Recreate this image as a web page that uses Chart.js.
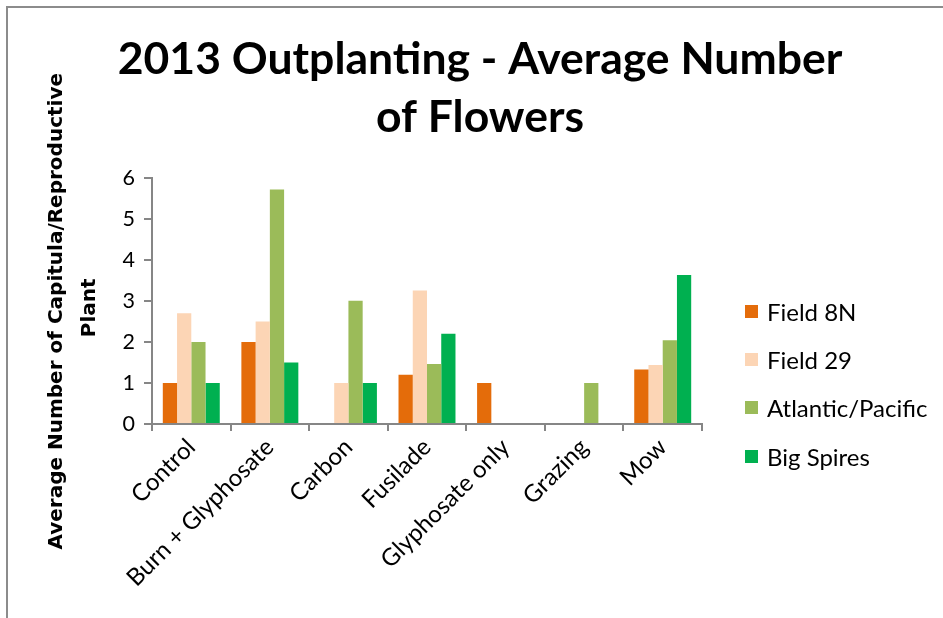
<!DOCTYPE html>
<html>
<head>
<meta charset="utf-8">
<script src="https://cdn.jsdelivr.net/npm/chart.js@4.4.1/dist/chart.umd.min.js"></script>
<style>
  html, body { margin: 0; padding: 0; background: #fff; }
  #wrap { position: relative; width: 943px; height: 618px; overflow: hidden; }
  #frame {
    position: absolute; left: 6px; top: 6px; right: -4px; bottom: -4px;
    border-top: 2px solid #8c8c8c; border-left: 2px solid #8c8c8c;
    pointer-events: none;
  }
  #legend {
    position: absolute; left: 745px; top: 287px; margin: 0; padding: 0;
    list-style: none; font-family: Lato, sans-serif; font-size: 24px; color: #000;
  }
  #legend li { height: 48.3px; display: flex; align-items: center; }
  #legend span.box { display: inline-block; width: 13px; height: 13px; margin-right: 9px; }
</style>
</head>
<body>
<div id="wrap">
  <canvas id="chart" width="943" height="618"></canvas>
  <ul id="legend"></ul>
  <div id="frame"></div>
</div>
<script>
const categories = ["Control", "Burn + Glyphosate", "Carbon", "Fusilade", "Glyphosate only", "Grazing", "Mow"];
const seriesNames = ["Field 8N", "Field 29", "Atlantic/Pacific", "Big Spires"];
const seriesColors = ["#E46C0A", "#FCD5B5", "#9BBB59", "#00B050"];

const field8N = [1, 2, 0, 1.2, 1, 0, 1.33];
const field29 = [2.7, 2.5, 1, 3.25, 0, 0, 1.44];
const atlanticPacific = [2, 5.71, 3, 1.46, 0, 1, 2.04];
const bigSpires = [1, 1.5, 1, 2.2, 0, 0, 3.63];

const yTicks = [0, 1, 2, 3, 4, 5, 6];

const titleLines = ["2013 Outplanting - Average Number", "of Flowers"];
// trailing spaces nudge the rotated title a bit lower along the axis
const yTitleLines = ["Average Number of Capitula/Reproductive\u00a0\u00a0\u00a0", "Plant\u00a0\u00a0"];

const seriesValues = [field8N, field29, atlanticPacific, bigSpires];
const axisGray = "#868686";

const datasets = seriesNames.map((name, i) => ({
    label: name,
    data: seriesValues[i],
    backgroundColor: seriesColors[i],
    borderWidth: 0,
    barPercentage: 1.0,
    categoryPercentage: 0.725
}));

// legend kept as html so it can sit apart from the plot
const legendEl = document.getElementById("legend");
seriesNames.forEach((name, i) => {
    const li = document.createElement("li");
    li.innerHTML = `<span class="box" style="background:${seriesColors[i]}"></span>${name}`;
    legendEl.appendChild(li);
});

const ctx = document.getElementById("chart").getContext("2d");
new Chart(ctx, {
    type: 'bar',
    data: { labels: categories, datasets },
    options: {
        responsive: false,
        animation: false,
        devicePixelRatio: 1,
        layout: { padding: { left: 17, top: 0, right: 0, bottom: 0 } },
        plugins: {
            legend: { display: false },
            tooltip: { enabled: false },
            title: {
                display: true,
                text: titleLines,
                color: '#000',
                font: { family: 'Lato', size: 44.5, weight: 'bold', lineHeight: 1.3 },
                padding: { top: 31, bottom: 31 }
            }
        },
        scales: {
            x: {
                grid: {
                    display: true, drawOnChartArea: false, drawTicks: true,
                    tickLength: 7, color: axisGray, lineWidth: 2, offset: true
                },
                border: { display: true, color: axisGray, width: 2 },
                ticks: {
                    color: '#000', font: { family: 'Lato', size: 24 },
                    minRotation: 45, maxRotation: 45, padding: 2, autoSkip: false
                },
                afterFit: (scale) => { scale.height = 194; }
            },
            y: {
                min: 0,
                max: 6,
                afterBuildTicks: (scale) => { scale.ticks = yTicks.map(v => ({ value: v })); },
                grid: {
                    display: true, drawOnChartArea: false, drawTicks: true,
                    tickLength: 8, color: axisGray, lineWidth: 2
                },
                border: { display: true, color: axisGray, width: 2 },
                ticks: { color: '#000', font: { family: 'Lato', size: 21.5 }, padding: 9 },
                title: {
                    display: true,
                    text: yTitleLines,
                    color: '#000',
                    font: { family: 'DejaVu Sans', size: 20, weight: 'bold', lineHeight: 1.65 },
                    padding: { top: 23, bottom: 0 }
                },
                afterFit: (scale) => { scale.width = 135; }
            },
            // empty strip on the right that leaves room for the legend
            legendSpace: {
                type: 'linear',
                position: 'right',
                grid: { display: false },
                border: { display: false },
                ticks: { display: false },
                afterFit: (scale) => { scale.width = 241; }
            }
        }
    }
});
</script>
</body>
</html>
